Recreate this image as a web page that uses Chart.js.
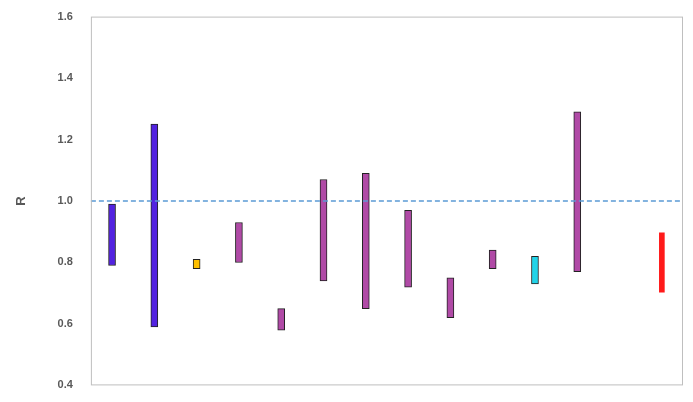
<!DOCTYPE html>
<html><head><script src="https://cdn.jsdelivr.net/npm/chart.js@4"></script>
<style>body{margin:0;background:#fff}#w{width:693px;height:402px}</style></head>
<body><div id="w"><canvas id="c"></canvas></div>
<script>
const categories = ['1','2','3','4','5','6','7','8','9','10','11','12','13','14'];
const lows  = [0.79,0.59,0.78,0.80,0.58,0.74,0.65,0.72,0.62,0.78,0.73,0.77,null,0.70];
const highs = [0.99,1.25,0.81,0.93,0.65,1.07,1.09,0.97,0.75,0.84,0.82,1.29,null,0.90];
const colors = ['#5222E0','#5222E0','#FFC000','#B04AA6','#B04AA6','#B04AA6','#B04AA6','#B04AA6','#B04AA6','#B04AA6','#22D3E8','#B04AA6','#000','#FF1A1A'];
const borders = colors.map((c,i)=> i===13 ? 'rgba(0,0,0,0)' : '#222');
const refValue = 1.0;
const yTicks = [0.4,0.6,0.8,1.0,1.2,1.4,1.6];
const data = categories.map((_,i)=> lows[i]==null ? null : [lows[i],highs[i]]);
const refLine = {id:'ref',afterDatasetsDraw(ch){const {ctx,chartArea:a,scales:{y}}=ch;const p=y.getPixelForValue(refValue);
ctx.save();ctx.strokeStyle='#5B9BD5';ctx.lineWidth=1.5;ctx.setLineDash([5,3]);ctx.beginPath();ctx.moveTo(a.left,p);ctx.lineTo(a.right,p);ctx.stroke();ctx.restore();}};
const frame = {id:'frame',afterDraw(ch){const {ctx,chartArea:a}=ch;ctx.save();ctx.strokeStyle='#bfbfbf';ctx.lineWidth=1;ctx.strokeRect(a.left+0.5,a.top+0.5,a.width-1,a.height-1);ctx.restore();}};
new Chart(document.getElementById('c'),{type:'bar',
data:{labels:categories,datasets:[{data,backgroundColor:colors,borderColor:borders,borderWidth:1,borderSkipped:false,barThickness:7}]},
options:{responsive:true,maintainAspectRatio:false,animation:false,
layout:{padding:{left:10,right:10,top:5,bottom:5}},
plugins:{legend:{display:false},tooltip:{enabled:false}},
scales:{x:{grid:{display:false},border:{display:false},ticks:{display:false}},
y:{min:0.4,max:1.6,afterBuildTicks(s){s.ticks=yTicks.map(v=>({value:v}));},grid:{display:false},border:{display:false},
ticks:{color:'#595959',font:{family:'Liberation Sans',size:11,weight:'bold'},callback:v=>v.toFixed(1),padding:10},
title:{display:true,text:'R',color:'#595959',font:{family:'Liberation Sans',size:13,weight:'bold'},padding:{bottom:18}}}}},
plugins:[refLine,frame]});
</script></body></html>
